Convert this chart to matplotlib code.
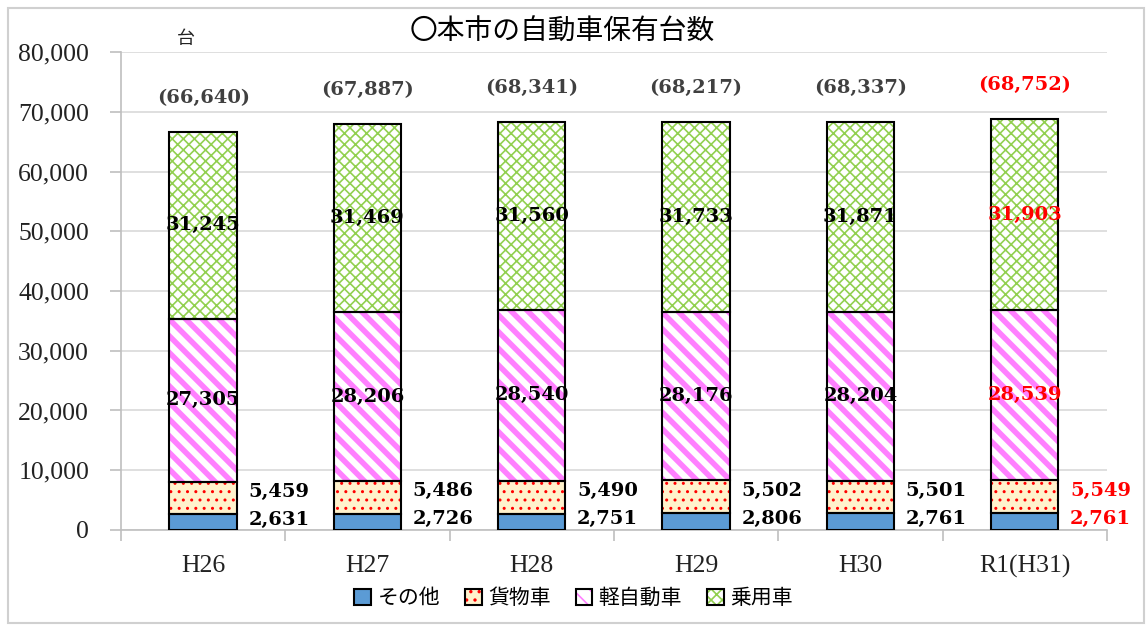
import matplotlib
matplotlib.use("Agg")
import matplotlib.pyplot as plt
from matplotlib.patches import Rectangle
from matplotlib.legend_handler import HandlerTuple
from matplotlib.ticker import FuncFormatter
import numpy as np

plt.rcParams["font.family"] = ["Noto Sans CJK JP", "DejaVu Sans"]
plt.rcParams["hatch.linewidth"] = 1.2

# data
years = ["H26", "H27", "H28", "H29", "H30", "R1(H31)"]
other = [2631, 2726, 2751, 2806, 2761, 2761]
cargo = [5459, 5486, 5490, 5502, 5501, 5549]
kei = [27305, 28206, 28540, 28176, 28204, 28539]
passenger = [31245, 31469, 31560, 31733, 31871, 31903]
totals = [66640, 67887, 68341, 68217, 68337, 68752]
series_names = ["その他", "貨物車", "軽自動車", "乗用車"]

fig = plt.figure(figsize=(11.47, 6.26), dpi=100)
ax = fig.add_axes([0.1055, 0.1534, 0.8595, 0.7635])
fig.patches.append(Rectangle((0.007, 0.004), 0.99, 0.983, transform=fig.transFigure,
                             fill=False, edgecolor="#D0D0D0", linewidth=1.5))

x = np.arange(len(years))
width = 0.41
series = [other, cargo, kei, passenger]
faces = ["#5B9BD5", "#FFF2CC", "white", "white"]
hatch_colors = ["#5B9BD5", "#FF0000", "#FF80FF", "#92D050"]
hatches = [None, "..", "\\\\", "xxx"]
hatch_lw = [1.0, 1.0, 4.0, 1.2]


def set_hlw(patch, lw):
    if hasattr(patch, "set_hatch_linewidth"):
        patch.set_hatch_linewidth(lw)


bottom = np.zeros(len(years))
for vals, fc, hc, h, hl in zip(series, faces, hatch_colors, hatches, hatch_lw):
    vals = np.array(vals)
    bars = ax.bar(x, vals, width, bottom=bottom, color=fc, edgecolor=hc, hatch=h,
                  linewidth=0, zorder=2)
    for b in bars:
        set_hlw(b, hl)
    ax.bar(x, vals, width, bottom=bottom, fill=False, edgecolor="black",
           linewidth=1.5, zorder=3)
    bottom += vals

# labels
lab_font = dict(family="DejaVu Serif", fontweight="bold", fontsize=14)
for i in range(len(years)):
    col = "red" if i == len(years) - 1 else "black"
    base_kei = other[i] + cargo[i]
    base_pas = base_kei + kei[i]
    ax.text(x[i], base_pas + passenger[i] / 2, f"{passenger[i]:,}", ha="center",
            va="center", color=col, zorder=4, **lab_font)
    ax.text(x[i], base_kei + kei[i] / 2, f"{kei[i]:,}", ha="center",
            va="center", color=col, zorder=4, **lab_font)
    ax.text(x[i] + width / 2 + 0.07, other[i] + cargo[i] / 2 + 1000, f"{cargo[i]:,}",
            ha="left", va="center", color=col, zorder=4, **lab_font)
    ax.text(x[i] + width / 2 + 0.07, other[i] / 2 + 400, f"{other[i]:,}",
            ha="left", va="center", color=col, zorder=4, **lab_font)
    tcol = "red" if i == len(years) - 1 else "#404040"
    ax.text(x[i], totals[i] + 5700, f"({totals[i]:,})", ha="center", va="center",
            color=tcol, **lab_font)

ax.set_xlim(-0.5, len(years) - 0.5)
ax.set_ylim(0, 80000)
ax.set_yticks(np.arange(0, 80001, 10000))
ax.yaxis.set_major_formatter(FuncFormatter(lambda v, p: f"{int(v):,}"))
ax.set_xticks(x)
ax.set_xticklabels(years)
ax.set_xticks(np.arange(-0.5, len(years)), minor=True)
ax.tick_params(axis="x", which="major", length=0, pad=18)
ax.tick_params(axis="x", which="minor", length=8, color="#BFBFBF", width=1.2)
ax.tick_params(axis="y", length=8, color="#BFBFBF", width=1.2, pad=15)
for lab in ax.get_xticklabels() + ax.get_yticklabels():
    lab.set_family("Liberation Serif")
    lab.set_fontsize(18.5)
    lab.set_color("#222222")

ax.grid(axis="y", color="#D9D9D9", linewidth=1.2, zorder=0)
ax.set_axisbelow(True)
for s in ["top", "right"]:
    ax.spines[s].set_visible(False)
for s in ["left", "bottom"]:
    ax.spines[s].set_color("#BFBFBF")
    ax.spines[s].set_linewidth(1.2)

fig.text(0.49, 0.949, "〇本市の自動車保有台数", ha="center", va="center", fontsize=20)
fig.text(0.162, 0.937, "台", ha="center", va="center", fontsize=13, color="#222222")

handles = []
for fc, hc, h, hl in zip(faces, hatch_colors, hatches, hatch_lw):
    fill = Rectangle((0, 0), 1, 1, facecolor=fc, edgecolor=hc, hatch=h, linewidth=0)
    set_hlw(fill, min(hl, 1.5))
    border = Rectangle((0, 0), 1, 1, fill=False, edgecolor="black", linewidth=1.5)
    handles.append((fill, border))
fig.legend(handles, series_names, loc="center", bbox_to_anchor=(0.5, 0.045), ncol=4,
           frameon=False, fontsize=15, handlelength=0.8, handleheight=0.8,
           handletextpad=0.3, columnspacing=1.2,
           handler_map={tuple: HandlerTuple(ndivide=1, pad=0)})

fig.savefig("out.png", dpi=100)
